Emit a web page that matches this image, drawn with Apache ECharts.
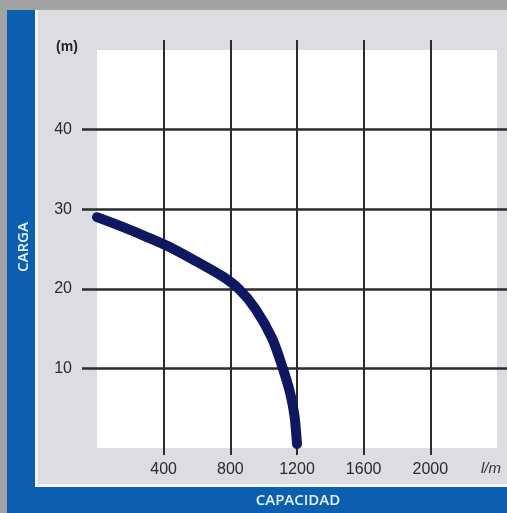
<!DOCTYPE html>
<html>
<head>
<meta charset="utf-8">
<script src="https://cdn.jsdelivr.net/npm/echarts@6/dist/echarts.min.js"></script>
<style>
html, body { margin: 0; padding: 0; background: #a3a3a3; }
#curva { width: 507px; height: 513px; }
</style>
</head>
<body>
<div id="curva"></div>
<script>
// datos de la curva (caudal l/m -> carga m)
var caudal = [0, 150, 300, 450, 600, 750, 850, 950, 1050, 1115, 1160, 1185, 1200];
var carga = [29, 27.8, 26.5, 25.1, 23.4, 21.6, 20, 17.5, 13.8, 10, 6.8, 4, 0.5];
var ticksX = [400, 800, 1200, 1600, 2000];
var ticksY = [10, 20, 30, 40];

var puntos = caudal.map(function (q, i) { return [q, carga[i]]; });

var azul = '#0c5fae';
var lineaGrid = '#2b2b2b';

var option = {
    animation: false,
    graphic: [
        { type: 'rect', z: -20, shape: { x: 7, y: 10, width: 500, height: 503 }, style: { fill: azul } },
        { type: 'rect', z: -19, shape: { x: 35, y: 10, width: 472, height: 477 }, style: { fill: '#f2f5fa' } },
        { type: 'rect', z: -18, shape: { x: 38, y: 10, width: 469, height: 474 }, style: { fill: '#dddde1' } },
        {
            type: 'text', z: 10, x: 24, y: 247, rotation: Math.PI / 2,
            style: { text: 'CARGA', fill: '#e4f3ff', font: '600 15px "Open Sans", sans-serif', align: 'center', verticalAlign: 'middle' }
        },
        {
            type: 'text', z: 10, x: 298, y: 501,
            style: { text: 'CAPACIDAD', fill: '#e4f3ff', font: '600 15px "Open Sans", sans-serif', align: 'center', verticalAlign: 'middle' }
        },
        {
            type: 'text', z: 10, x: 67, y: 47,
            style: { text: '(m)', fill: '#222', font: 'bold 14px "Liberation Sans", sans-serif', align: 'center', verticalAlign: 'middle' }
        },
        {
            type: 'text', z: 10, x: 491, y: 469,
            style: { text: 'l/m', fill: '#333', font: 'italic 15px "Liberation Sans", sans-serif', align: 'center', verticalAlign: 'middle' }
        }
    ],
    grid: {
        show: true,
        left: 97,
        top: 50,
        width: 400,
        height: 398,
        backgroundColor: '#ffffff',
        borderWidth: 0
    },
    xAxis: [
        {
            type: 'value',
            min: 0,
            max: 2400,
            interval: 400,
            axisLine: { show: false, onZero: false },
            axisTick: {
                show: true,
                customValues: ticksX,
                length: 7,
                lineStyle: { color: lineaGrid, width: 2 }
            },
            splitLine: {
                show: true,
                lineStyle: { color: lineaGrid, width: 2 }
            },
            axisLabel: {
                customValues: ticksX,
                margin: 14,
                color: '#2a2a2a',
                fontSize: 16,
                fontFamily: 'Liberation Sans',
                formatter: function (v) { return String(v); }
            }
        },
        {
            type: 'value',
            position: 'top',
            min: 0,
            max: 2400,
            interval: 400,
            axisLine: { show: false, onZero: false },
            axisTick: {
                show: true,
                customValues: ticksX,
                length: 10,
                lineStyle: { color: lineaGrid, width: 2 }
            },
            splitLine: { show: false },
            axisLabel: { show: false }
        }
    ],
    yAxis: [
        {
            type: 'value',
            min: 0,
            max: 50,
            interval: 10,
            axisLine: { show: false, onZero: false },
            axisTick: {
                show: true,
                customValues: ticksY,
                length: 15,
                lineStyle: { color: lineaGrid, width: 2.5 }
            },
            splitLine: {
                show: true,
                lineStyle: { color: lineaGrid, width: 2.5 }
            },
            axisLabel: {
                customValues: ticksY,
                margin: 25,
                color: '#2a2a2a',
                fontSize: 16,
                fontFamily: 'Liberation Sans'
            }
        },
        {
            type: 'value',
            position: 'right',
            min: 0,
            max: 50,
            interval: 10,
            axisLine: { show: false, onZero: false },
            axisTick: {
                show: true,
                customValues: ticksY,
                length: 10,
                lineStyle: { color: lineaGrid, width: 2.5 }
            },
            splitLine: { show: false },
            axisLabel: { show: false }
        }
    ],
    series: [
        {
            type: 'line',
            data: puntos,
            smooth: 0.3,
            symbol: 'none',
            z: 5,
            lineStyle: {
                color: '#0e1860',
                width: 10,
                cap: 'round',
                join: 'round'
            }
        }
    ]
};

var chart = echarts.init(document.getElementById('curva'));
chart.setOption(option);
</script>
</body>
</html>
